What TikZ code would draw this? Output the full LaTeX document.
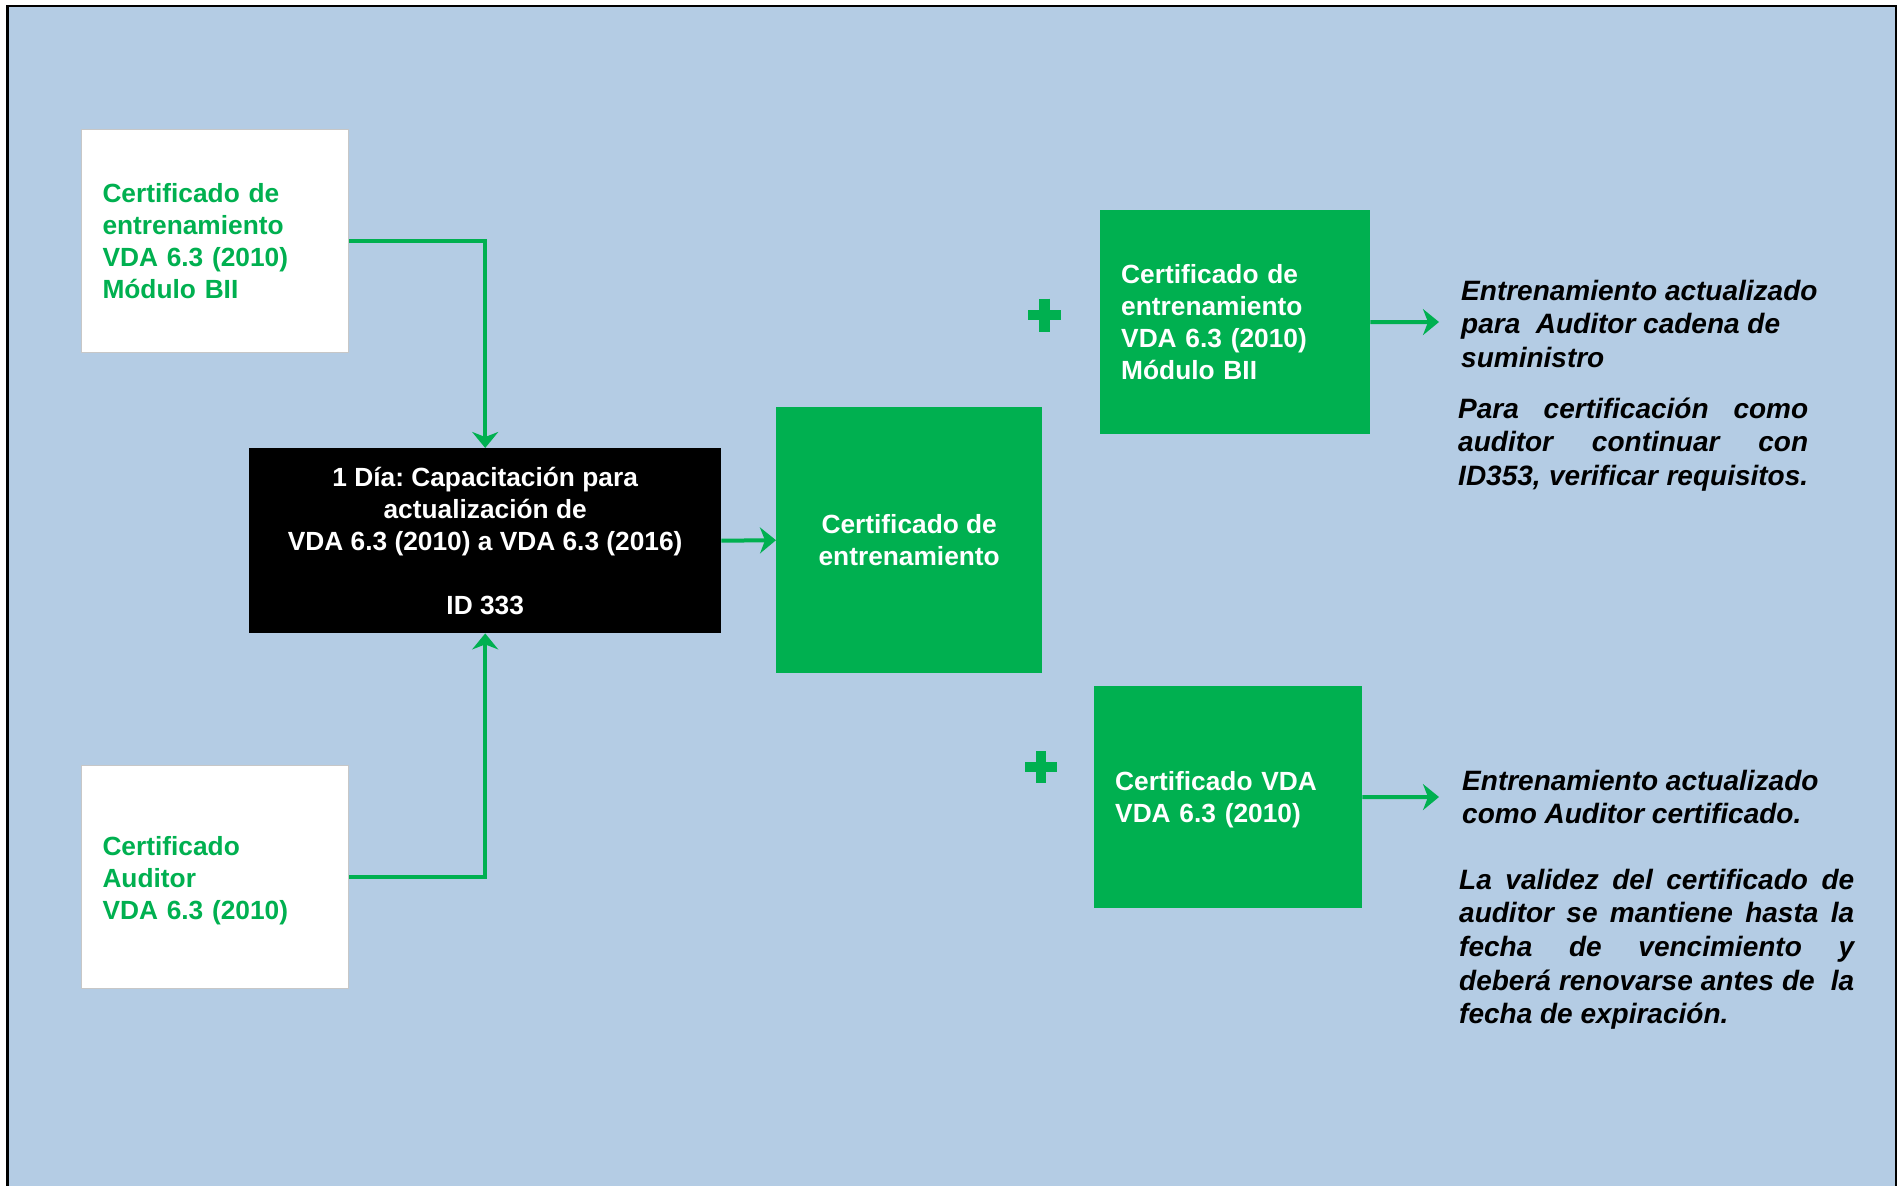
\documentclass[tikz,border=0pt]{standalone}
\usepackage{fontspec}
\setmainfont{Liberation Sans}
\usetikzlibrary{arrows.meta}
\definecolor{bgblue}{RGB}{180,204,228}
\definecolor{vgreen}{RGB}{0,176,80}
\frenchspacing
\begin{document}
\begin{tikzpicture}[x=1pt,y=-1pt]
\tikzset{
 boxfont/.style={font=\fontsize{26.3}{32}\selectfont\bfseries},
 wbox/.style={boxfont, draw=black!22, line width=1pt, fill=white, text=vgreen, align=left, inner xsep=21pt, inner ysep=0pt, anchor=north west},
 gbox/.style={boxfont, fill=vgreen, text=white, inner xsep=21pt, inner ysep=0pt, anchor=north west},
 kbox/.style={boxfont, fill=black, text=white, align=center, inner sep=0pt, anchor=north west},
 note/.style={font=\fontsize{28}{33.7}\selectfont\bfseries\itshape, inner sep=0pt, anchor=base west},
 conn/.style={vgreen, line width=4pt, -{Stealth[length=16pt,width=26pt,inset=5pt]}},
 plusmark/.style={vgreen, line width=10.5pt}
}
\useasboundingbox (0,0) rectangle (1904,1186);
\fill[white] (0,0) rectangle (1904,1186);
\draw[fill=bgblue, line width=2.5pt] (7.5,6) rectangle (1896,1200);

\node[wbox, text width=225pt, minimum height=223pt] (w1) at (81,129) {Certificado de\\entrenamiento\\VDA 6.3 (2010)\\Módulo BII};
\node[wbox, text width=225pt, minimum height=223pt] (w2) at (81,765) {\rule{0pt}{26pt}Certificado\\Auditor\\VDA 6.3 (2010)};
\node[kbox, minimum width=472pt, minimum height=185pt] (k) at (249,448) {1 Día: Capacitación para\\actualización de\\VDA 6.3 (2010) a VDA 6.3 (2016)\\[32pt]ID 333};
\node[gbox, align=center, inner xsep=0pt, minimum width=266pt, minimum height=266pt] (c) at (776,407) {Certificado de\\entrenamiento};
\node[gbox, align=left, text width=228pt, minimum height=224pt] (g1) at (1100,210) {Certificado de\\entrenamiento\\VDA 6.3 (2010)\\Módulo BII};
\node[gbox, align=left, text width=226pt, minimum height=222pt] (g2) at (1094,686) {\rule{0pt}{24pt}Certificado VDA\\VDA 6.3 (2010)};

\node[note] (t1) at (1461,300) {\parbox[t]{420pt}{Entrenamiento actualizado\\para\ \ Auditor cadena de\\suministro}};
\node[note] (n1) at (1458,418) {\parbox[t]{350pt}{\makebox[\linewidth][s]{Para certificación como}\\\makebox[\linewidth][s]{auditor continuar con}\\\makebox[\linewidth][s]{ID353, verificar requisitos.}}};
\node[note] (t2) at (1462,790) {\parbox[t]{420pt}{Entrenamiento actualizado\\como Auditor certificado.}};
\node[note] (n2) at (1459,889) {\parbox[t]{395pt}{\makebox[\linewidth][s]{La validez del certificado de}\\\makebox[\linewidth][s]{auditor se mantiene hasta la}\\\makebox[\linewidth][s]{fecha de vencimiento y}\\\makebox[\linewidth][s]{deberá renovarse antes de\ \ la}\\fecha de expiración.}};

\coordinate (e1) at (1439,322);
\coordinate (e2) at (1439,797);
\draw[conn] (w1.east) -| (k.north);
\draw[conn] (w2.east) -| (k.south);
\draw[conn] (k.east) -- (c.west);
\draw[conn] (g1.east) -- (e1);
\draw[conn] (g2.east) -- (e2);

\draw[plusmark] (1028,315) -- (1061,315) (1044.5,298.5) -- (1044.5,331.5);
\draw[plusmark] (1025,767) -- (1057,767) (1041,751) -- (1041,783);
\end{tikzpicture}
\end{document}
